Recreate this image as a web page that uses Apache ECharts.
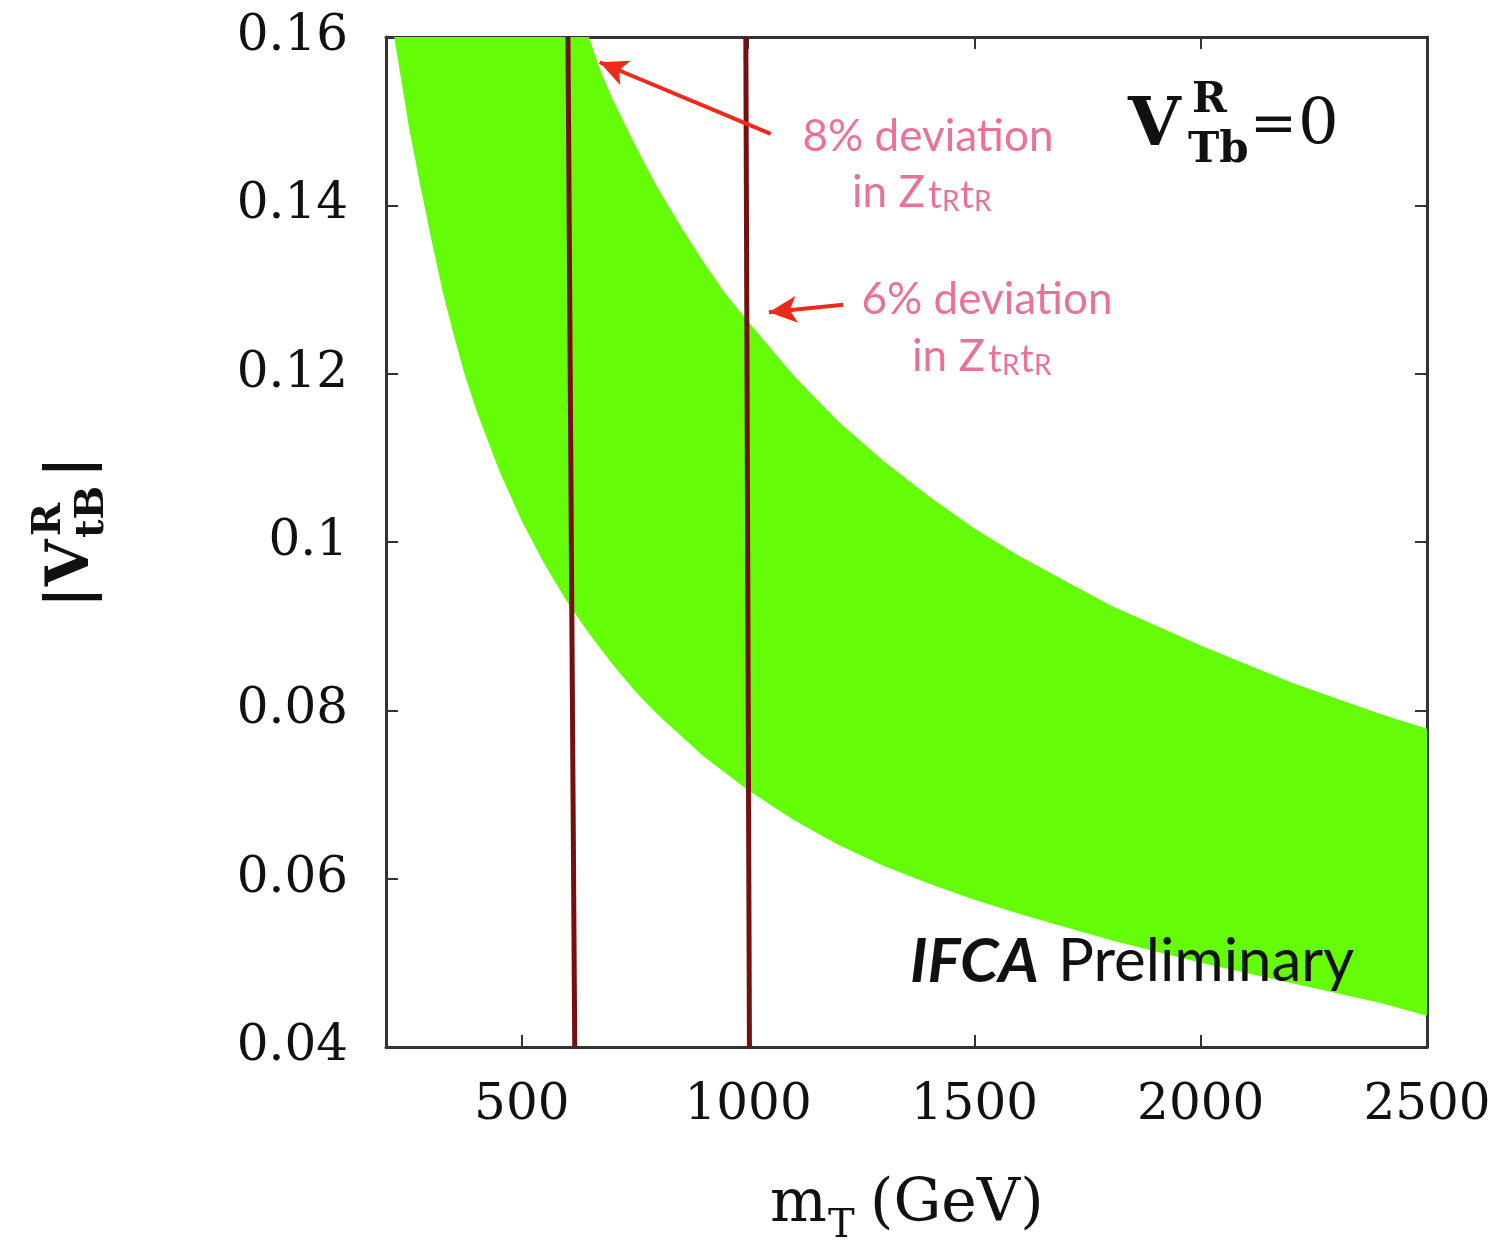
<!DOCTYPE html>
<html>
<head>
<meta charset="utf-8">
<title>|V_tB^R| vs m_T</title>
<script src="https://cdn.jsdelivr.net/npm/echarts@6/dist/echarts.min.js"></script>
<style>
  html, body { margin: 0; padding: 0; background: #fff; }
  #chart { width: 1507px; height: 1255px; }
</style>
</head>
<body>
<div id="chart"></div>
<script>
// edges of the green band (m_T in GeV, |V_tB^R|)
const mtUpper = [648, 675, 700, 750, 800, 850, 900, 950, 1000, 1100, 1200, 1300, 1400, 1500, 1600, 1800, 2000, 2200, 2400, 2500];
const vUpper = [0.160, 0.1558, 0.1527, 0.1472, 0.1421, 0.1376, 0.1334, 0.1295, 0.1262, 0.1198, 0.1143, 0.1096, 0.1054, 0.1016, 0.0983, 0.0925, 0.0877, 0.0833, 0.0795, 0.0778];
const mtLower = [218, 235, 250, 275, 300, 325, 350, 375, 400, 450, 500, 550, 600, 650, 700, 750, 800, 900, 1000, 1100, 1200, 1300, 1400, 1500, 1600, 1800, 2000, 2200, 2400, 2500];
const vLower = [0.160, 0.1545, 0.1495, 0.1425, 0.1360, 0.1298, 0.1245, 0.1197, 0.1156, 0.1085, 0.1025, 0.0974, 0.0929, 0.0890, 0.0855, 0.0823, 0.0795, 0.0746, 0.0705, 0.0670, 0.0640, 0.0615, 0.0594, 0.0575, 0.0558, 0.0527, 0.0500, 0.0476, 0.0452, 0.0437];

// the two vertical lines (8% and 6% deviation), top and bottom ends
const line8 = [[602, 0.16], [617, 0.04]];
const line6 = [[995, 0.16], [1003, 0.04]];

// annotation arrows: tail -> head
const arrow8 = [[1050, 0.1485], [672, 0.1570]];
const arrow6 = [[1210, 0.1282], [1046, 0.1273]];

const xTicks = [500, 1000, 1500, 2000, 2500];

const GREEN = '#64fc06';
const DARKRED = '#741010';
const PINK = '#ea7299';
const ARROW = '#ee2a1b';
const FRAME = '#333333';
const SERIF = '"DejaVu Serif", "Liberation Serif", serif';
const SANS = 'Lato, "Open Sans", sans-serif';

const chart = echarts.init(document.getElementById('chart'));

const axisCommon = {
  axisLine: { show: true, onZero: false, lineStyle: { color: FRAME, width: 3 } },
  axisTick: { show: true, inside: true, length: 12, lineStyle: { color: FRAME, width: 2 } },
  splitLine: { show: false }
};

// subscript helper for the pink "in Zt_Rt_R" labels
function ztt(x, y) {
  const f = function (t) { return t + 'px ' + SANS; };
  return {
    type: 'group', x: x, y: y, z: 100,
    children: [
      { type: 'text', x: 0, y: 0, style: { text: 'in Z', font: f(44), fill: PINK, verticalAlign: 'middle' } },
      { type: 'text', x: 76, y: 3, style: { text: 't', font: f(38), fill: PINK, verticalAlign: 'middle' } },
      { type: 'text', x: 90, y: 9, style: { text: 'R', font: f(28), fill: PINK, verticalAlign: 'middle' } },
      { type: 'text', x: 108, y: 3, style: { text: 't', font: f(38), fill: PINK, verticalAlign: 'middle' } },
      { type: 'text', x: 122, y: 9, style: { text: 'R', font: f(28), fill: PINK, verticalAlign: 'middle' } }
    ]
  };
}

chart.setOption({
  backgroundColor: '#fff',
  animation: false,
  grid: { left: 386, right: 80, top: 37, bottom: 208, containLabel: false },
  xAxis: [
    Object.assign({}, axisCommon, {
      type: 'value', min: 200, max: 2500, position: 'bottom',
      axisTick: Object.assign({}, axisCommon.axisTick, { customValues: xTicks }),
      axisLabel: {
        customValues: xTicks, margin: 34, fontSize: 50, fontFamily: SERIF, color: '#111',
        formatter: function (v) { return String(v); }
      }
    }),
    Object.assign({}, axisCommon, {
      type: 'value', min: 200, max: 2500, position: 'top',
      axisTick: Object.assign({}, axisCommon.axisTick, { customValues: xTicks }),
      axisLabel: { show: false }
    })
  ],
  yAxis: [
    Object.assign({}, axisCommon, {
      type: 'value', min: 0.04, max: 0.16, interval: 0.02, position: 'left',
      axisLabel: { margin: 38, fontSize: 50, fontFamily: SERIF, color: '#111' }
    }),
    Object.assign({}, axisCommon, {
      type: 'value', min: 0.04, max: 0.16, interval: 0.02, position: 'right',
      axisLabel: { show: false }
    })
  ],
  series: [
    {
      type: 'custom',
      clip: true,
      silent: true,
      data: [[mtLower[0], vLower[0]]],
      renderItem: function (params, api) {
        const pts = [];
        for (let i = 0; i < mtUpper.length; i++) pts.push(api.coord([mtUpper[i], vUpper[i]]));
        for (let i = mtLower.length - 1; i >= 0; i--) pts.push(api.coord([mtLower[i], vLower[i]]));
        return { type: 'polygon', shape: { points: pts }, style: { fill: GREEN } };
      },
      z: 1
    },
    {
      type: 'line', data: line8, symbol: 'none', silent: true,
      lineStyle: { color: DARKRED, width: 5 }, z: 3
    },
    {
      type: 'line', data: line6, symbol: 'none', silent: true,
      lineStyle: { color: DARKRED, width: 5 }, z: 3,
      markLine: {
        silent: true,
        symbol: ['none', 'arrow'],
        symbolSize: [20, 28],
        label: { show: false },
        lineStyle: { color: ARROW, width: 4, type: 'solid' },
        data: [
          [{ coord: arrow8[0] }, { coord: arrow8[1] }],
          [{ coord: arrow6[0] }, { coord: arrow6[1] }]
        ]
      }
    }
  ],
  graphic: [
    // pink annotations
    { type: 'text', x: 928, y: 137, z: 100, style: { text: '8% deviation', font: '44px ' + SANS, fill: PINK, align: 'center', verticalAlign: 'middle' } },
    ztt(852, 193),
    { type: 'text', x: 987, y: 300, z: 100, style: { text: '6% deviation', font: '44px ' + SANS, fill: PINK, align: 'center', verticalAlign: 'middle' } },
    ztt(912, 357),
    // V_Tb^R = 0
    {
      type: 'group', x: 1128, y: 127, z: 100,
      children: [
        { type: 'text', x: 0, y: 0, style: { text: 'V', font: 'bold 68px ' + SERIF, fill: '#111', verticalAlign: 'middle' } },
        { type: 'text', x: 64, y: -26, style: { text: 'R', font: 'bold 42px ' + SERIF, fill: '#111', verticalAlign: 'middle' } },
        { type: 'text', x: 60, y: 24, style: { text: 'Tb', font: 'bold 42px ' + SERIF, fill: '#111', verticalAlign: 'middle' } },
        { type: 'text', x: 122, y: 0, style: { text: '=', font: '56px ' + SERIF, fill: '#111', verticalAlign: 'middle' } },
        { type: 'text', x: 170, y: 0, style: { text: '0', font: '64px ' + SERIF, fill: '#111', verticalAlign: 'middle' } }
      ]
    },
    // IFCA Preliminary
    { type: 'text', x: 910, y: 962, z: 100, style: { text: 'IFCA', font: 'italic bold 62px ' + SANS, fill: '#111', verticalAlign: 'middle' } },
    { type: 'text', x: 1058, y: 962, z: 100, style: { text: 'Preliminary', font: '60px ' + SANS, fill: '#111', verticalAlign: 'middle' } },
    // x axis title m_T (GeV)
    {
      type: 'group', x: 770, y: 1205, z: 100,
      children: [
        { type: 'text', x: 0, y: 0, style: { text: 'm', font: '60px ' + SERIF, fill: '#111', verticalAlign: 'middle' } },
        { type: 'text', x: 58, y: 22, style: { text: 'T', font: '40px ' + SERIF, fill: '#111', verticalAlign: 'middle' } },
        { type: 'text', x: 100, y: 0, style: { text: '(GeV)', font: '60px ' + SERIF, fill: '#111', verticalAlign: 'middle' } }
      ]
    },
    // y axis title |V_tB^R|, rotated
    {
      type: 'group', x: 72, y: 608, rotation: Math.PI / 2, z: 100,
      children: [
        { type: 'text', x: 0, y: 0, style: { text: '|V', font: 'bold 60px ' + SERIF, fill: '#111', verticalAlign: 'middle' } },
        { type: 'text', x: 72, y: -22, style: { text: 'R', font: 'bold 40px ' + SERIF, fill: '#111', verticalAlign: 'middle' } },
        { type: 'text', x: 70, y: 21, style: { text: 'tB', font: 'bold 40px ' + SERIF, fill: '#111', verticalAlign: 'middle' } },
        { type: 'text', x: 130, y: 0, style: { text: '|', font: 'bold 60px ' + SERIF, fill: '#111', verticalAlign: 'middle' } }
      ]
    }
  ]
});
</script>
</body>
</html>
